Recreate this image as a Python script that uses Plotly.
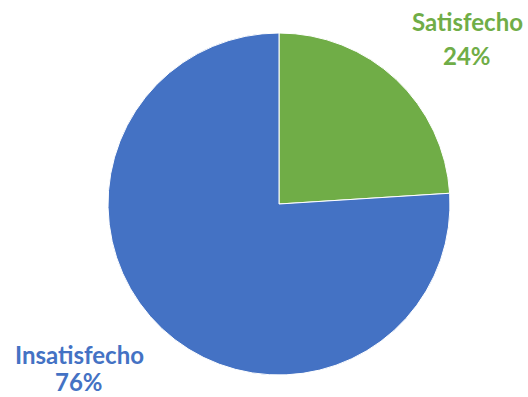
import plotly.graph_objects as go

# Survey result shares
categories = ["Satisfecho", "Insatisfecho"]
shares = [24, 76]
slice_colors = ["#70AD47", "#4472C4"]

W, H = 528, 397
cx, cy, r = 279, 204, 171  # pie centre / radius in pixels


def px_x(x):
    return x / W


def px_y(y):
    return 1 - y / H


fig = go.Figure(
    go.Pie(
        labels=categories,
        values=shares,
        marker=dict(colors=slice_colors, line=dict(color="white", width=1)),
        sort=False,
        direction="clockwise",
        rotation=0,
        textinfo="none",
        hoverinfo="label+percent",
        domain=dict(x=[px_x(cx - r), px_x(cx + r)], y=[px_y(cy + r), px_y(cy - r)]),
        showlegend=False,
    )
)

# Outside labels: category name above its percentage
label_pos = {"Satisfecho": (467, 22, 56), "Insatisfecho": (79, 354, 381)}
total = sum(shares)
annotations = []
for name, val, col in zip(categories, shares, slice_colors):
    x, y1, y2 = label_pos[name]
    for text, y in ((name, y1), (f"{round(100 * val / total)}%", y2)):
        annotations.append(
            dict(
                x=px_x(x), y=px_y(y), xref="paper", yref="paper",
                text=f"<b>{text}</b>", showarrow=False,
                xanchor="center", yanchor="middle", borderpad=0,
                font=dict(family="Lato", size=24, color=col),
            )
        )

fig.update_layout(
    width=W, height=H,
    margin=dict(l=0, r=0, t=0, b=0),
    paper_bgcolor="white", plot_bgcolor="white",
    annotations=annotations,
)

fig.write_html("out.html")
